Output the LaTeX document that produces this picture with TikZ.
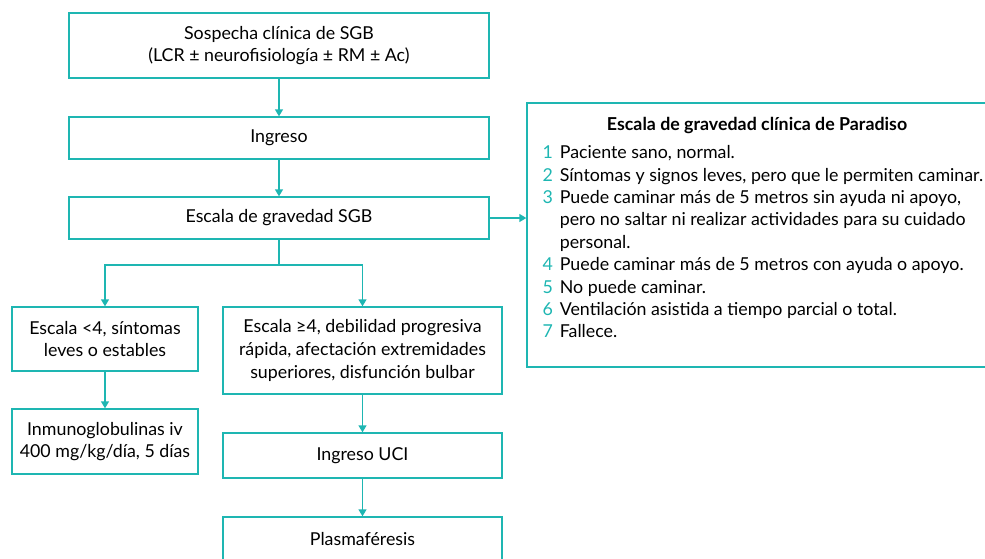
\documentclass[tikz,border=0pt]{standalone}
\usepackage{fontspec}
\setmainfont{Lato}
\usetikzlibrary{arrows.meta,positioning}
\definecolor{gbsteal}{RGB}{30,182,178}

\begin{document}
\begin{tikzpicture}[x=1pt,y=-1pt,
    caja/.style={draw=gbsteal, line width=1.4pt, align=center, inner sep=0pt,
        font=\fontsize{17.8}{22.6}\selectfont},
    linea/.style={draw=gbsteal, line width=1.4pt},
    flecha/.style={linea, -{Triangle[length=7pt,width=8pt]}}]
    \clip (0,0) rectangle (985,558);
    % columna central
    \node[caja, minimum width=420pt, minimum height=65pt] (sospecha) at (279,45.5)
        {Sospecha clínica de SGB\\(LCR ± neurofisiología ± RM ± Ac)};
    \node[caja, minimum width=420pt, minimum height=42pt] (ingreso) at (279,138) {Ingreso};
    \node[caja, minimum width=420pt, minimum height=42pt] (escala) at (279,218) {Escala de gravedad SGB};
    % ramas
    \node[caja, minimum width=186pt, minimum height=64pt] (leve) at (105,339)
        {Escala <4, síntomas\\leves o estables};
    \node[caja, minimum width=279pt, minimum height=87pt] (grave) at (362.5,350.5)
        {Escala ≥4, debilidad progresiva\\rápida, afectación extremidades\\superiores, disfunción bulbar};
    \node[caja, minimum width=186pt, minimum height=65pt] (inmuno) at (105,441.5)
        {Inmunoglobulinas iv\\400 mg/kg/día, 5 días};
    \node[caja, minimum width=279pt, minimum height=45pt] (uci) at (362.5,455.5) {Ingreso UCI};
    \node[caja, minimum width=279pt, minimum height=44pt] (plasma) at (362.5,539) {Plasmaféresis};
    % escala de Paradiso
    \node[caja, minimum width=470pt, minimum height=264pt] (paradiso) at (762,235) {};
    \node[below=15pt of paradiso.north west, anchor=north west, xshift=16pt, align=left,
        font=\fontsize{17.8}{22.4}\selectfont, inner sep=0pt] (paradisotxt) {%
        \makebox[429pt]{\bfseries Escala de gravedad clínica de Paradiso}\\[8pt]
        \begin{tabular}{@{}l@{\hspace{7pt}}l@{}}
            \textcolor{gbsteal}{1} & Paciente sano, normal.\\
            \textcolor{gbsteal}{2} & Síntomas y signos leves, pero que le permiten caminar.\\
            \textcolor{gbsteal}{3} & Puede caminar más de 5 metros sin ayuda ni apoyo,\\
              & pero no saltar ni realizar actividades para su cuidado\\
              & personal.\\
            \textcolor{gbsteal}{4} & Puede caminar más de 5 metros con ayuda o apoyo.\\
            \textcolor{gbsteal}{5} & No puede caminar.\\
            \textcolor{gbsteal}{6} & Ventilación asistida a tiempo parcial o total.\\
            \textcolor{gbsteal}{7} & Fallece.
        \end{tabular}};
    \coordinate (rama) at (279,265);
    % conectores
    \draw[flecha] (sospecha) -- (ingreso);
    \draw[flecha] (ingreso) -- (escala);
    \draw[flecha] (escala.east) -- (escala.east -| paradiso.west);
    \draw[linea] (escala) -- (rama);
    \draw[flecha] (rama) -| (leve);
    \draw[flecha] (rama) -| (grave);
    \draw[flecha] (leve) -- (inmuno);
    \draw[flecha] (grave) -- (uci);
    \draw[flecha] (uci) -- (plasma);
\end{tikzpicture}
\end{document}
